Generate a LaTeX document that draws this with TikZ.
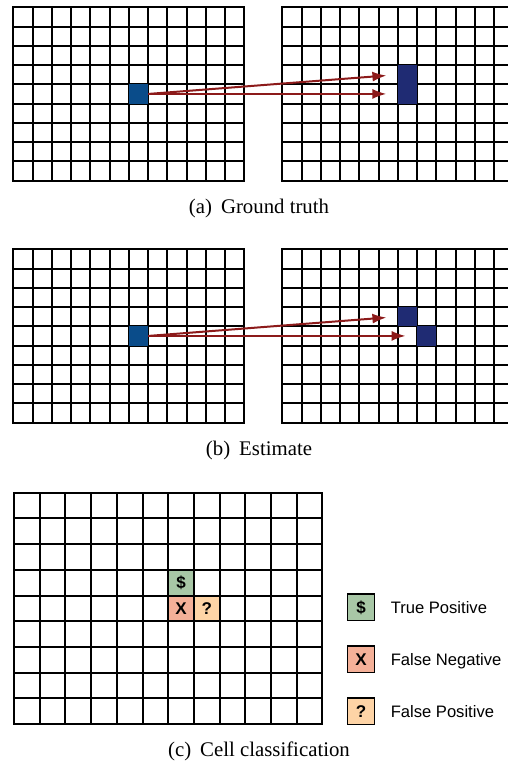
\documentclass[tikz,border=0pt]{standalone}
\usepackage{fontspec}
\setmainfont{Liberation Serif}
\setsansfont{Liberation Sans}
\usetikzlibrary{arrows.meta, positioning}

\definecolor{srcblue}{RGB}{10,76,138}
\definecolor{tgtblue}{RGB}{31,43,115}
\definecolor{flowred}{RGB}{140,26,26}
\definecolor{tpgreen}{RGB}{168,199,166}
\definecolor{fnsalmon}{RGB}{244,176,152}
\definecolor{fppeach}{RGB}{254,212,166}

\tikzset{
  gridline/.style={line width=1pt, line cap=rect},
  smallcell/.style={minimum size=9.625pt, inner sep=0pt},
  bigcell/.style={minimum size=12.85pt, inner sep=0pt, text height=6.1pt, text depth=0pt,
    font=\sffamily\bfseries\fontsize{8.5}{10}\selectfont},
  legbox/.style={draw, line width=0.75pt, minimum width=13.6pt, minimum height=13.3pt, inner sep=0pt,
    text height=6.1pt, text depth=0pt, font=\sffamily\bfseries\fontsize{8.5}{10}\selectfont},
  legtext/.style={inner sep=0pt, text height=6pt, text depth=0pt, font=\sffamily\fontsize{8.3}{10}\selectfont},
  caption/.style={anchor=base, inner sep=0pt, font=\fontsize{10.4}{12}\selectfont},
  flow/.style={-{Latex[length=7pt, width=5pt]}, line width=1pt, draw=flowred, shorten >=5.5pt}
}

\begin{document}
\begin{tikzpicture}[x=0.5pt, y=-0.5pt]
  \clip (0,0) rectangle (508,765);

  % (a) ground truth, left frame
  \begin{scope}[shift={(13.3,7.3)}, x=9.625pt, y=-9.625pt]
    \foreach \i in {0,...,12} \draw[gridline] (\i,0) -- (\i,9);
    \foreach \j in {0,...,9} \draw[gridline] (0,\j) -- (12,\j);
    \node[smallcell, fill=srcblue] (srcA) at (6.5,4.5) {};
  \end{scope}
  % (a) ground truth, right frame
  \begin{scope}[shift={(282.3,7.3)}, x=9.625pt, y=-9.625pt]
    \foreach \i in {0,...,12} \draw[gridline] (\i,0) -- (\i,9);
    \foreach \j in {0,...,9} \draw[gridline] (0,\j) -- (12,\j);
    \node[smallcell, fill=tgtblue] (tgtA1) at (6.5,3.5) {};
    \node[smallcell, fill=tgtblue] (tgtA2) at (6.5,4.5) {};
  \end{scope}
  \node[caption] (capA) at (259,213) {(a)\hspace{4.5pt}Ground truth};

  % (b) estimate, left frame
  \begin{scope}[shift={(13.3,249.3)}, x=9.625pt, y=-9.625pt]
    \foreach \i in {0,...,12} \draw[gridline] (\i,0) -- (\i,9);
    \foreach \j in {0,...,9} \draw[gridline] (0,\j) -- (12,\j);
    \node[smallcell, fill=srcblue] (srcB) at (6.5,4.5) {};
  \end{scope}
  % (b) estimate, right frame
  \begin{scope}[shift={(282.3,249.3)}, x=9.625pt, y=-9.625pt]
    \foreach \i in {0,...,12} \draw[gridline] (\i,0) -- (\i,9);
    \foreach \j in {0,...,9} \draw[gridline] (0,\j) -- (12,\j);
    \node[smallcell, fill=tgtblue] (tgtB1) at (6.5,3.5) {};
    \node[smallcell, fill=tgtblue] (tgtB2) at (7.5,4.5) {};
  \end{scope}
  \node[caption] (capB) at (259,455) {(b)\hspace{4.5pt}Estimate};

  % Arrows
  \draw[flow] (srcA.east) -- (tgtA1.west);
  \draw[flow] (srcA.east) -- (tgtA2.west);
  \draw[flow] (srcB.east) -- (tgtB1.west);
  \draw[flow] (srcB.east) -- (tgtB2.west);

  % (c) cell classification
  \begin{scope}[shift={(14,492.7)}, x=12.85pt, y=-12.85pt]
    \node[bigcell, fill=tpgreen] (tp) at (6.5,3.5) {\$};
    \node[bigcell, fill=fnsalmon] (fn) at (6.5,4.5) {X};
    \node[bigcell, fill=fppeach] (fp) at (7.5,4.5) {?};
    \foreach \i in {0,...,12} \draw[gridline] (\i,0) -- (\i,9);
    \foreach \j in {0,...,9} \draw[gridline] (0,\j) -- (12,\j);
  \end{scope}
  \node[caption] (capC) at (259,756) {(c)\hspace{4.5pt}Cell classification};

  % Legend
  \node[legbox, fill=tpgreen] (keytp) at (361,607.3) {\$};
  \node[legbox, fill=fnsalmon, below=11.9pt of keytp] (keyfn) {X};
  \node[legbox, fill=fppeach, below=11.9pt of keyfn] (keyfp) {?};
  \node[legtext, right=7.5pt of keytp] (txttp) {True Positive};
  \node[legtext, right=7.5pt of keyfn] (txtfn) {False Negative};
  \node[legtext, right=7.5pt of keyfp] (txtfp) {False Positive};
\end{tikzpicture}
\end{document}
